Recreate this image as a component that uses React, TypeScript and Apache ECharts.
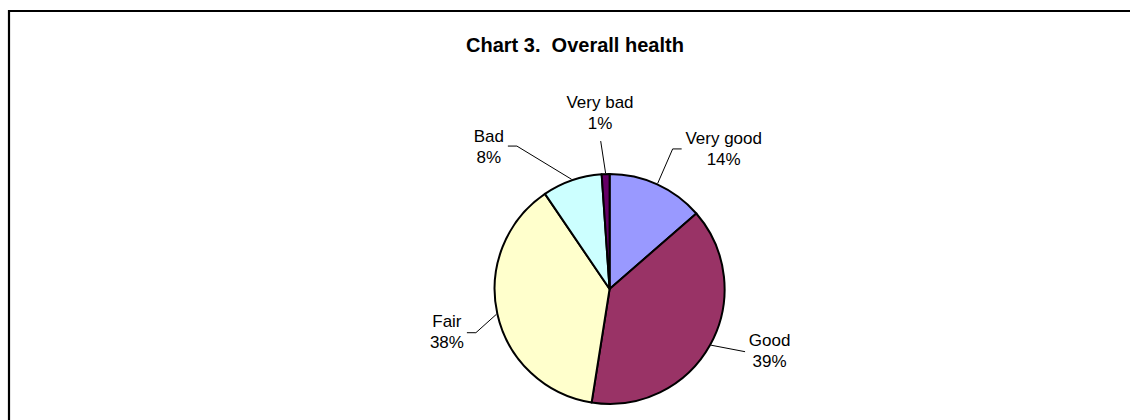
import React, { useEffect, useRef } from 'react';
import * as echarts from 'echarts';

// ---- Data ----
const categories: string[] = ['Very good', 'Good', 'Fair', 'Bad', 'Very bad'];
const values: number[] = [13.6, 38.9, 38.0, 8.4, 1.1];
const sliceColors: string[] = ['#9999FF', '#993366', '#FFFFCC', '#CCFFFF', '#660066'];
const titleText = 'Chart 3.  Overall health';

// ---- Layout / style (not data) ----
const CX = 609.6;
const CY = 289;
const R = 116;
const FONT = 'Liberation Sans, Arial, Helvetica, sans-serif';

// label placement relative to each slice's edge point at its mid-angle
const labelPlacement: { text: [number, number]; line: [number, number][] }[] = [
  { text: [66, -34], line: [[15, -34.5], [24, -34.5]] },
  { text: [58.5, 6], line: [[34, 6.5]] },
  { text: [-49.5, 18], line: [[-20.5, 18.4], [-29.5, 18.4]] },
  { text: [-82.8, -32], line: [[-54.8, -33.3], [-63.8, -33.3]] },
  { text: [-5.6, -60], line: [[-4.9, -32]] },
];

function edgePoints(): [number, number][] {
  const total = values.reduce((a, b) => a + b, 0);
  let cum = 0;
  return values.map((v) => {
    const mid = ((cum + v / 2) / total) * Math.PI * 2;
    cum += v;
    return [CX + R * Math.sin(mid), CY - R * Math.cos(mid)];
  });
}

export default function App() {
  const ref = useRef<HTMLDivElement>(null);
  useEffect(() => {
    document.body.style.margin = '0';
    if (!ref.current) return;
    const chart = echarts.init(ref.current, undefined, { renderer: 'svg' });
    const edges = edgePoints();
    chart.setOption({
      animation: false,
      backgroundColor: '#ffffff',
      title: {
        text: titleText,
        left: 466,
        top: 35,
        padding: 0,
        textStyle: {
          fontFamily: FONT,
          fontSize: 20,
          fontWeight: 'bold',
          color: '#000000',
        },
      },
      graphic: [
        {
          type: 'rect',
          silent: true,
          z: -10,
          shape: { x: 9, y: 11, width: 1200, height: 500 },
          style: { fill: 'none', stroke: '#000000', lineWidth: 2.2 },
        },
      ],
      series: [
        {
          type: 'pie',
          center: [CX, CY],
          radius: R - 1,
          startAngle: 90,
          clockwise: true,
          silent: true,
          emphasis: { disabled: true },
          itemStyle: { borderColor: '#000000', borderWidth: 2 },
          label: {
            show: true,
            position: 'outside',
            fontFamily: FONT,
            fontSize: 17,
            lineHeight: 21,
            color: '#000000',
            align: 'center',
            formatter: (p: any) => `${p.name}\n${Math.round(p.percent)}%`,
          },
          labelLine: {
            show: true,
            lineStyle: { color: '#000000', width: 1 },
          },
          labelLayout: (params: any) => {
            const i = params.dataIndex;
            const e = edges[i];
            const pl = labelPlacement[i];
            const pts: [number, number][] = [e, ...pl.line.map((d) => [e[0] + d[0], e[1] + d[1]] as [number, number])];
            return {
              x: e[0] + pl.text[0],
              y: e[1] + pl.text[1],
              align: 'center',
              verticalAlign: 'middle',
              labelLinePoints: pts,
            };
          },
          data: categories.map((name, i) => ({
            name,
            value: values[i],
            itemStyle: { color: sliceColors[i] },
          })),
        },
      ],
    });
    return () => chart.dispose();
  }, []);
  return (
    <div
      ref={ref}
      style={{ position: 'fixed', left: 0, top: 0, width: 1130, height: 420, background: '#fff' }}
    />
  );
}
